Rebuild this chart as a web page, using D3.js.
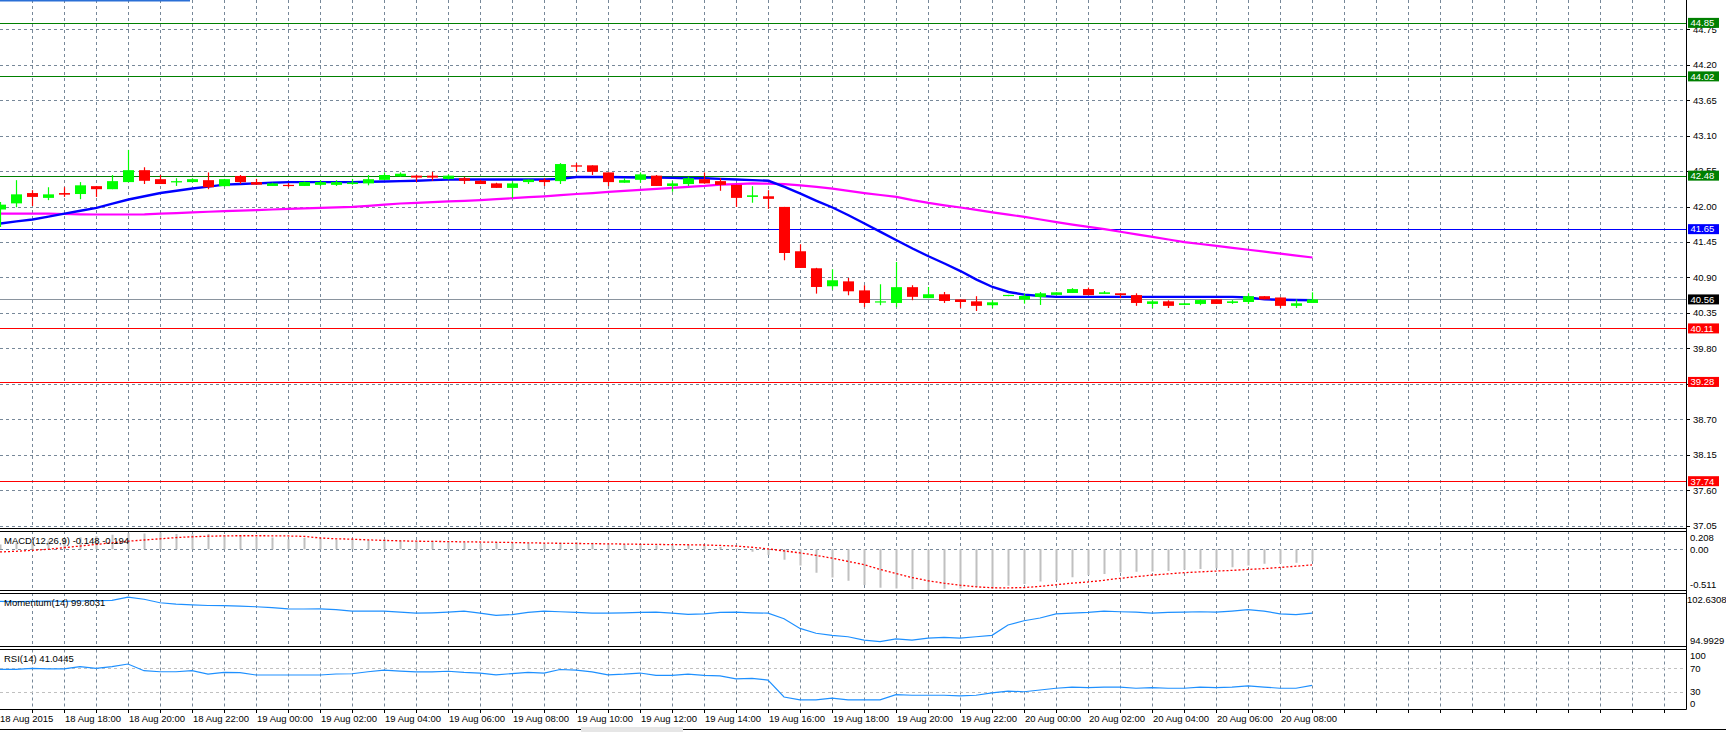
<!DOCTYPE html>
<html><head><meta charset="utf-8">
<script src="https://cdn.jsdelivr.net/npm/d3@7/dist/d3.min.js"></script>
<style>
body{margin:0;background:#fff;}
svg{display:block;font-family:"Liberation Sans",Arial,sans-serif;}
</style>
</head><body>
<svg id="c" width="1726" height="732"></svg>
<script>
// ---------------- DATA ----------------
const timeLabels = ["18 Aug 2015","18 Aug 18:00","18 Aug 20:00","18 Aug 22:00","19 Aug 00:00","19 Aug 02:00","19 Aug 04:00","19 Aug 06:00","19 Aug 08:00","19 Aug 10:00","19 Aug 12:00","19 Aug 14:00","19 Aug 16:00","19 Aug 18:00","19 Aug 20:00","19 Aug 22:00","20 Aug 00:00","20 Aug 02:00","20 Aug 04:00","20 Aug 06:00","20 Aug 08:00"];
const timeLabelIdx = [0,4,8,12,16,20,24,28,32,36,40,44,48,52,56,60,64,68,72,76,80];

const open  = [41.955,42.05,42.21,42.135,42.21,42.195,42.317,42.27,42.38,42.565,42.425,42.375,42.38,42.41,42.317,42.475,42.38,42.32,42.337,42.32,42.337,42.337,42.35,42.36,42.415,42.47,42.48,42.48,42.43,42.44,42.40,42.36,42.29,42.38,42.415,42.395,42.64,42.64,42.53,42.37,42.415,42.48,42.32,42.35,42.425,42.395,42.337,42.15,42.16,41.995,41.307,41.043,40.764,40.84,40.70,40.52,40.505,40.75,40.58,40.64,40.56,40.53,40.47,40.613,40.557,40.598,40.63,40.66,40.72,40.645,40.655,40.627,40.49,40.53,40.474,40.49,40.56,40.505,40.52,40.61,40.59,40.46,40.505];
const high  = [42.07,42.41,42.255,42.30,42.30,42.38,42.32,42.49,42.88,42.61,42.49,42.44,42.44,42.53,42.43,42.49,42.43,42.37,42.365,42.39,42.41,42.41,42.43,42.49,42.53,42.53,42.49,42.54,42.50,42.46,42.415,42.37,42.39,42.42,42.44,42.675,42.675,42.64,42.53,42.44,42.53,42.49,42.395,42.46,42.53,42.44,42.34,42.317,42.255,41.995,41.416,41.05,41.028,40.893,40.78,40.795,41.14,40.78,40.753,40.675,40.56,40.61,40.546,40.63,40.65,40.675,40.67,40.735,40.744,40.69,40.655,40.655,40.546,40.546,40.505,40.56,40.56,40.55,40.655,40.61,40.59,40.56,40.67];
const low   = [41.685,41.99,42.01,42.10,42.15,42.115,42.15,42.27,42.38,42.35,42.35,42.32,42.375,42.27,42.31,42.35,42.335,42.32,42.30,42.32,42.32,42.32,42.34,42.33,42.41,42.46,42.38,42.40,42.42,42.35,42.35,42.29,42.135,42.35,42.32,42.35,42.54,42.49,42.317,42.37,42.37,42.32,42.23,42.32,42.355,42.245,41.995,42.06,41.965,41.167,41.048,40.65,40.713,40.624,40.44,40.47,40.44,40.547,40.58,40.505,40.43,40.38,40.427,40.61,40.495,40.474,40.63,40.66,40.627,40.645,40.58,40.46,40.427,40.427,40.47,40.47,40.49,40.49,40.49,40.56,40.427,40.427,40.505];
const close = [42.03,42.19,42.15,42.19,42.185,42.33,42.27,42.395,42.565,42.40,42.35,42.395,42.425,42.30,42.425,42.38,42.34,42.36,42.32,42.38,42.38,42.38,42.375,42.425,42.49,42.51,42.45,42.45,42.48,42.40,42.35,42.29,42.36,42.42,42.38,42.66,42.62,42.54,42.38,42.41,42.50,42.32,42.36,42.44,42.36,42.337,42.135,42.175,42.12,41.28,41.048,40.753,40.857,40.686,40.505,40.53,40.75,40.60,40.64,40.536,40.52,40.46,40.515,40.63,40.613,40.655,40.67,40.72,40.627,40.67,40.627,40.505,40.53,40.46,40.50,40.55,40.49,40.53,40.61,40.56,40.46,40.50,40.56];

const maFast = [41.737,41.77,41.80,41.845,41.89,41.935,41.98,42.045,42.11,42.16,42.21,42.245,42.28,42.31,42.34,42.35,42.36,42.37,42.38,42.38,42.38,42.38,42.38,42.385,42.39,42.395,42.40,42.41,42.42,42.42,42.42,42.42,42.42,42.42,42.42,42.43,42.46,42.46,42.46,42.455,42.45,42.45,42.445,42.44,42.44,42.43,42.42,42.41,42.40,42.306,42.20,42.09,41.986,41.866,41.737,41.607,41.478,41.35,41.23,41.117,41.00,40.868,40.753,40.675,40.635,40.613,40.60,40.60,40.60,40.60,40.60,40.60,40.60,40.60,40.60,40.60,40.60,40.60,40.59,40.56,40.555,40.55,40.547];
const maSlow = [41.89,41.89,41.89,41.89,41.885,41.88,41.877,41.877,41.877,41.88,41.89,41.90,41.91,41.92,41.93,41.937,41.944,41.955,41.965,41.972,41.98,41.987,41.995,42.01,42.03,42.048,42.058,42.068,42.08,42.09,42.10,42.115,42.13,42.146,42.16,42.177,42.195,42.21,42.228,42.245,42.26,42.275,42.29,42.306,42.32,42.34,42.35,42.36,42.355,42.35,42.33,42.305,42.28,42.245,42.21,42.18,42.15,42.10,42.057,42.02,41.986,41.95,41.91,41.875,41.84,41.80,41.76,41.72,41.685,41.65,41.61,41.57,41.53,41.49,41.45,41.42,41.39,41.36,41.33,41.30,41.27,41.24,41.21];

const macd = [0.06,0.08,0.09,0.11,0.13,0.15,0.16,0.18,0.20,0.195,0.208,0.19,0.185,0.19,0.175,0.17,0.15,0.145,0.125,0.14,0.13,0.115,0.12,0.115,0.12,0.11,0.10,0.105,0.095,0.085,0.07,0.08,0.07,0.075,0.065,0.085,0.09,0.08,0.06,0.06,0.065,0.05,0.045,0.05,0.04,0.03,0.01,-0.03,-0.07,-0.13,-0.20,-0.29,-0.35,-0.39,-0.443,-0.477,-0.485,-0.494,-0.511,-0.49,-0.485,-0.469,-0.485,-0.452,-0.431,-0.40,-0.38,-0.347,-0.318,-0.305,-0.289,-0.28,-0.276,-0.268,-0.255,-0.243,-0.234,-0.222,-0.20,-0.18,-0.172,-0.167,-0.148];
const macdSignal = [-0.033,-0.025,-0.013,0.0,0.02,0.04,0.06,0.08,0.10,0.115,0.13,0.145,0.155,0.162,0.166,0.168,0.168,0.167,0.165,0.16,0.14,0.13,0.125,0.117,0.11,0.105,0.10,0.098,0.095,0.092,0.09,0.087,0.084,0.08,0.077,0.074,0.072,0.07,0.067,0.065,0.062,0.06,0.058,0.056,0.053,0.048,0.04,0.025,0.005,-0.02,-0.045,-0.075,-0.11,-0.15,-0.19,-0.25,-0.30,-0.35,-0.39,-0.42,-0.445,-0.465,-0.477,-0.478,-0.475,-0.46,-0.44,-0.42,-0.405,-0.385,-0.36,-0.34,-0.32,-0.305,-0.29,-0.28,-0.27,-0.262,-0.25,-0.24,-0.225,-0.21,-0.194];

const momentum = [101.5,101.45,101.5,101.55,101.5,101.55,101.6,101.65,102.1,101.8,101.3,101.1,101.0,100.9,100.88,100.8,100.72,100.6,100.41,100.4,100.41,100.3,100.1,100.1,100.1,99.95,99.79,99.85,99.95,100.1,99.8,99.48,99.6,99.9,100.1,100.0,99.9,99.79,99.79,99.85,99.9,99.94,99.8,99.63,99.7,99.9,99.94,99.85,99.8,99.0,97.6,96.9,96.6,96.4,95.9,95.7,96.1,95.9,96.2,96.3,96.2,96.4,96.6,98.1,98.7,99.1,99.7,99.8,99.9,100.1,100.0,99.95,99.8,99.9,99.95,100.0,99.94,100.1,100.3,100.1,99.7,99.6,99.8031];
const rsi = [68.3,68.3,70,69,69,72.8,70,72.8,77.4,66,64.2,64.2,66,60.3,63.2,62.6,58.6,58.6,58.6,58.6,58.6,60.3,60.8,64.2,67.1,65.4,64,64,65,63,62,59,61,63,62,68,67,64,59,60,62,58,58,60,58,57,52,53,50,21,16,16,19,16,16,16,25,24,24,24,23,24,28,31,30,33,36,38,37,38,38,36,37,36,36,38,37,38,40,38,36,36,41.0445];

const priceTicks = [44.75,44.20,43.65,43.10,42.55,42.00,41.45,40.90,40.35,39.80,39.25,38.70,38.15,37.60,37.05];
const levelPrices = [44.85,44.02,42.48,41.65,40.56,40.11,39.28,37.74];
const levelKinds  = ["green","green","green","blue","bid","red","red","red"];

const macdTicks = [0.208,0.00,-0.511];
const macdTickText = ["0.208","0.00","-0.511"];
const momTicks = [102.6308,94.9929];
const momTickText = ["102.6308","94.9929"];
const rsiTicks = [100,70,30,0];

// ---------------- LAYOUT ----------------
const W = 1726, H = 732, R = 1686;
const svg = d3.select("#c");
svg.append("rect").attr("width",W).attr("height",H).attr("fill","#fff");

const x = d3.scaleLinear().domain([0, R/16]).range([0, R]);
const yMain = d3.scaleLinear().domain([37.006, 45.205]).range([528.5, 0]);
const yMacd = d3.scaleLinear().domain([-0.511, 0.208]).range([590.5, 532.5]);
const yMom  = d3.scaleLinear().domain([94.9929, 102.6308]).range([646.5, 593.5]);
const yRsi  = d3.scaleLinear().domain([0, 100]).range([709.3, 650.8]);

const panes = [
  {top:0, bottom:529},
  {top:531, bottom:590.5},
  {top:593, bottom:646.5},
  {top:649.5, bottom:709.5}
];
const gridCol = "#778899";
const kindLine = {green:"#008000", blue:"#0000ff", bid:"#8a949f", red:"#ff0000"};
const kindBox  = {green:"#008000", blue:"#0000ff", bid:"#000000", red:"#ff0000"};

const defs = svg.append("defs");
panes.forEach((p,i)=>{
  defs.append("clipPath").attr("id","clip"+i).append("rect")
    .attr("x",0).attr("y",p.top).attr("width",R).attr("height",p.bottom-p.top);
});

// vertical grid in each pane
const vIdx = d3.range(2, R/16, 2);
panes.forEach(p=>{
  svg.append("g").selectAll("line").data(vIdx).join("line")
    .attr("x1",d=>Math.round(x(d))+0.5).attr("x2",d=>Math.round(x(d))+0.5)
    .attr("y1",p.top).attr("y2",p.bottom)
    .attr("stroke",gridCol).attr("stroke-width",1).attr("stroke-dasharray","3,3");
});

// ---------------- MAIN PANE ----------------
const main = svg.append("g").attr("clip-path","url(#clip0)");
main.append("g").selectAll("line").data(priceTicks).join("line")
  .attr("x1",0).attr("x2",R)
  .attr("y1",d=>Math.round(yMain(d))+0.5).attr("y2",d=>Math.round(yMain(d))+0.5)
  .attr("stroke",gridCol).attr("stroke-dasharray","3,3");

// horizontal levels
main.append("g").selectAll("line").data(levelPrices).join("line")
  .attr("x1",0).attr("x2",R)
  .attr("y1",d=>Math.round(yMain(d))+0.5).attr("y2",d=>Math.round(yMain(d))+0.5)
  .attr("stroke",(d,i)=>kindLine[levelKinds[i]]).attr("stroke-width",1);

// moving averages
const idx = d3.range(open.length);
const lineMain = arr => d3.line().x(i=>x(i)+0.5).y(i=>yMain(arr[i]));
main.append("path").datum(idx).attr("d",lineMain(maSlow))
  .attr("fill","none").attr("stroke","#ff00ff").attr("stroke-width",2.2);
main.append("path").datum(idx).attr("d",lineMain(maFast))
  .attr("fill","none").attr("stroke","#0000ff").attr("stroke-width",2.4);

// candles
const cg = main.append("g");
idx.forEach(i=>{
  const up = close[i] >= open[i];
  const col = up ? "#00ff00" : "#ff0000";
  const cx = Math.round(x(i));
  cg.append("line").attr("x1",cx+0.5).attr("x2",cx+0.5)
    .attr("y1",yMain(high[i])).attr("y2",yMain(low[i]))
    .attr("stroke",col).attr("stroke-width",1.2);
  const yt = yMain(Math.max(open[i],close[i])), yb = yMain(Math.min(open[i],close[i]));
  cg.append("rect").attr("x",cx-5).attr("width",11)
    .attr("y",yt).attr("height",Math.max(1.2,yb-yt)).attr("fill",col);
});

// ---------------- MACD ----------------
const gm = svg.append("g").attr("clip-path","url(#clip1)");
gm.append("line").attr("x1",0).attr("x2",R)
  .attr("y1",Math.round(yMacd(0))+0.5).attr("y2",Math.round(yMacd(0))+0.5)
  .attr("stroke",gridCol).attr("stroke-dasharray","3,3");
gm.append("g").selectAll("line").data(idx).join("line")
  .attr("x1",i=>Math.round(x(i))+0.5).attr("x2",i=>Math.round(x(i))+0.5)
  .attr("y1",yMacd(0)).attr("y2",i=>yMacd(macd[i]))
  .attr("stroke","#c0c0c0").attr("stroke-width",2);
gm.append("path").datum(idx)
  .attr("d",d3.line().x(i=>x(i)).y(i=>yMacd(macdSignal[i])))
  .attr("fill","none").attr("stroke","#ff0000").attr("stroke-width",1.3).attr("stroke-dasharray","2,2");

// ---------------- MOMENTUM ----------------
const go = svg.append("g").attr("clip-path","url(#clip2)");
go.append("path").datum(idx)
  .attr("d",d3.line().x(i=>x(i)).y(i=>yMom(momentum[i])))
  .attr("fill","none").attr("stroke","#1e90ff").attr("stroke-width",1.2);

// ---------------- RSI ----------------
const gr = svg.append("g").attr("clip-path","url(#clip3)");
gr.append("g").selectAll("line").data([70,30]).join("line")
  .attr("x1",0).attr("x2",R)
  .attr("y1",d=>Math.round(yRsi(d))+0.5).attr("y2",d=>Math.round(yRsi(d))+0.5)
  .attr("stroke","#c0c0c0").attr("stroke-dasharray","3,3");
gr.append("path").datum(idx)
  .attr("d",d3.line().x(i=>x(i)).y(i=>yRsi(rsi[i])))
  .attr("fill","none").attr("stroke","#1e90ff").attr("stroke-width",1.2);

// ---------------- FRAMES ----------------
const fr = svg.append("g").attr("stroke","#000").attr("stroke-width",1);
[528.5,531.5,590.5,593.5,646.5,649.5,709.5].forEach(yy=>{
  fr.append("line").attr("x1",0).attr("x2",R+0.5).attr("y1",yy).attr("y2",yy);
});
fr.append("line").attr("x1",R+0.5).attr("x2",R+0.5).attr("y1",0).attr("y2",709.5);

// ---------------- RIGHT AXIS LABELS ----------------
const fs = "9.5px";
const ax = svg.append("g").attr("font-size",fs).attr("fill","#000");
ax.selectAll("line.t").data(priceTicks).join("line")
  .attr("x1",R).attr("x2",R+4)
  .attr("y1",d=>Math.round(yMain(d))+0.5).attr("y2",d=>Math.round(yMain(d))+0.5)
  .attr("stroke","#000");
ax.selectAll("text.p").data(priceTicks).join("text")
  .attr("x",R+7).attr("y",d=>yMain(d)).attr("dy","0.35em")
  .text(d=>d.toFixed(2));

// level boxes
const lb = svg.append("g").attr("font-size",fs);
levelPrices.forEach((p,i)=>{
  const yy = yMain(p);
  lb.append("rect").attr("x",R+2).attr("y",yy-5).attr("width",31).attr("height",10)
    .attr("fill",kindBox[levelKinds[i]]);
  lb.append("text").attr("x",R+4.5).attr("y",yy).attr("dy","0.35em").attr("fill","#fff")
    .text(p.toFixed(2));
});

// sub pane labels
function subLabels(vals, texts, sc, top, bottom, xOff){
  const g = svg.append("g").attr("font-size",fs).attr("fill","#000");
  vals.forEach((v,i)=>{
    const yy = Math.max(top+6, Math.min(bottom-6, sc(v)));
    g.append("text").attr("x",R+xOff[i]).attr("y",yy).attr("dy","0.35em").text(texts[i]);
  });
}
subLabels(macdTicks, macdTickText, yMacd, 531.5, 590.5, [4,4,4]);
subLabels(momTicks, momTickText, yMom, 593.5, 646.5, [1,4]);
subLabels(rsiTicks, rsiTicks.map(String), yRsi, 649.5, 709.5, [4,4,4,4]);

// indicator titles
const tt = svg.append("g").attr("font-size",fs).attr("fill","#000");
tt.append("text").attr("x",4).attr("y",541).attr("dy","0.35em")
  .text(`MACD(12,26,9) ${macd[macd.length-1].toFixed(3)} ${macdSignal[macdSignal.length-1].toFixed(3)}`);
tt.append("text").attr("x",4).attr("y",603).attr("dy","0.35em")
  .text(`Momentum(14) ${momentum[momentum.length-1].toFixed(4)}`);
tt.append("text").attr("x",4).attr("y",659).attr("dy","0.35em")
  .text(`RSI(14) ${rsi[rsi.length-1].toFixed(4)}`);

// ---------------- TIME AXIS ----------------
const ta = svg.append("g").attr("font-size",fs).attr("fill","#000");
ta.selectAll("line").data(vIdx).join("line")
  .attr("x1",d=>Math.round(x(d))+0.5).attr("x2",d=>Math.round(x(d))+0.5)
  .attr("y1",709.5).attr("y2",713).attr("stroke","#000");
ta.selectAll("text").data(timeLabelIdx).join("text")
  .attr("x",(d)=>d===0?0:x(d)+1).attr("y",719).attr("dy","0.35em")
  .text((d,i)=>timeLabels[i]);

// ---------------- WINDOW DECOR ----------------
svg.append("rect").attr("x",0).attr("y",0).attr("width",190).attr("height",1.5).attr("fill","#2a6fd6");
svg.append("rect").attr("x",581).attr("y",727).attr("width",102).attr("height",5).attr("fill","#e6e6e6");
svg.append("line").attr("x1",0).attr("x2",581).attr("y1",729.5).attr("y2",729.5).attr("stroke","#000");
svg.append("line").attr("x1",683).attr("x2",W).attr("y1",729.5).attr("y2",729.5).attr("stroke","#000");
</script>
</body></html>
